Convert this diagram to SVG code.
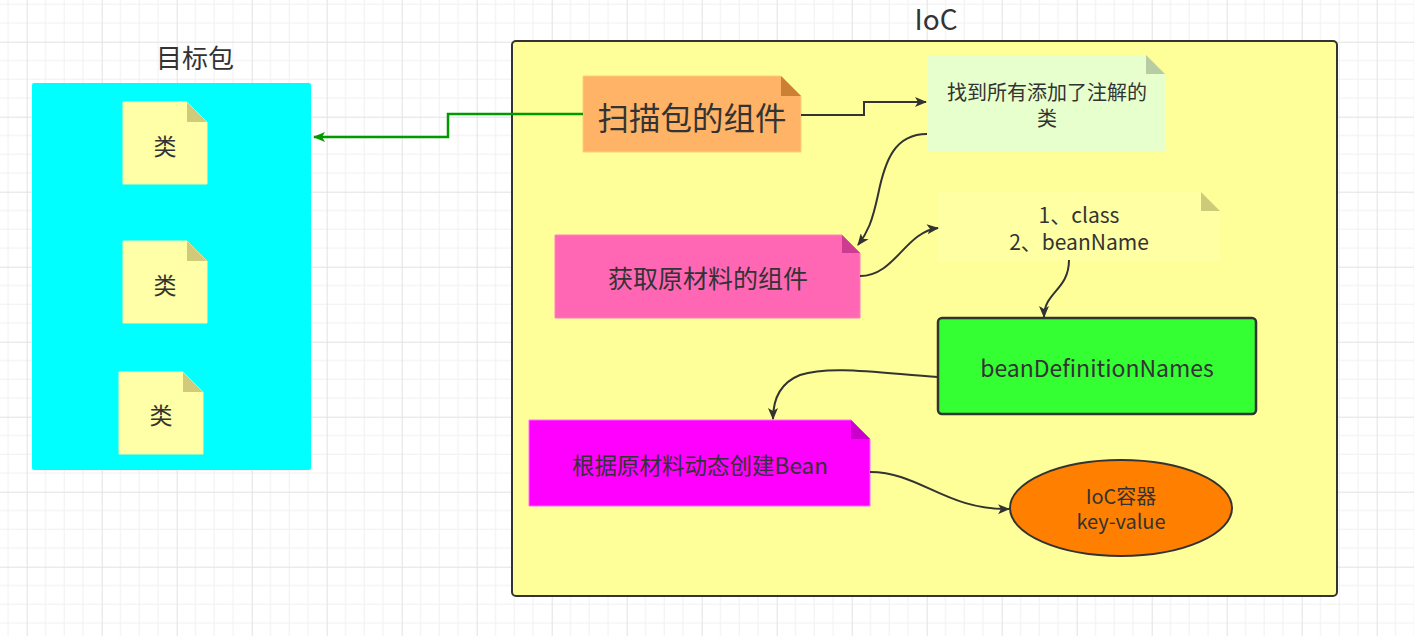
<svg xmlns="http://www.w3.org/2000/svg" width="1414" height="636" viewBox="0 0 1414 636">
<defs>
<pattern id="grid" x="26.7" y="41.7" width="75" height="75" patternUnits="userSpaceOnUse">
<path d="M18.75,0V75M37.5,0V75M56.25,0V75M0,18.75H75M0,37.5H75M0,56.25H75" stroke="#f0f0f0" stroke-width="1" fill="none"/>
<path d="M0.5,0V75M0,0.5H75" stroke="#e2e2e2" stroke-width="1" fill="none"/>
</pattern>
<marker id="ab" viewBox="0 0 12 10" refX="11" refY="5" markerWidth="12" markerHeight="10" markerUnits="userSpaceOnUse" orient="auto">
<path d="M0,0 L12,5 L0,10 L3,5 Z" fill="#333333"/>
</marker>
<marker id="ag" viewBox="0 0 12 10" refX="11" refY="5" markerWidth="12" markerHeight="10" markerUnits="userSpaceOnUse" orient="auto">
<path d="M0,0 L12,5 L0,10 L3,5 Z" fill="#009900"/>
</marker>
<style>
text{font-family:"Noto Sans CJK SC","Noto Sans",sans-serif;fill:#333333;text-anchor:middle;dominant-baseline:central}
.conn{fill:none;stroke:#333333;stroke-width:2}
</style>
</defs>
<rect width="1414" height="636" fill="#ffffff"/>
<rect width="1414" height="636" fill="url(#grid)"/>

<g id="pkg-label"><text x="195" y="56" font-size="26">目标包</text></g>
<g id="pkg"><rect x="32" y="83" width="279" height="387" rx="2" fill="#00ffff"/></g>
<g id="cls1">
<path d="M123,102H187L207,122V184H123Z" fill="#ffffa8" stroke="#fff7a0"/>
<path d="M187,102V122H207Z" fill="#cfcb7a"/>
<text x="165" y="145" font-size="23">类</text>
</g>
<g id="cls2">
<path d="M123,241H187L207,261V323H123Z" fill="#ffffa8" stroke="#fff7a0"/>
<path d="M187,241V261H207Z" fill="#cfcb7a"/>
<text x="165" y="284" font-size="23">类</text>
</g>
<g id="cls3">
<path d="M119,372H183L203,392V454H119Z" fill="#ffffa8" stroke="#fff7a0"/>
<path d="M183,372V392H203Z" fill="#cfcb7a"/>
<text x="161" y="414" font-size="23">类</text>
</g>

<g id="ioc-label"><text x="936" y="18" font-size="28">IoC</text></g>
<g id="ioc"><rect x="512" y="41" width="825" height="555" rx="4" fill="#ffff99" stroke="#333333" stroke-width="2"/></g>

<g id="scan">
<path d="M583,76H781L801,96V152H583Z" fill="#ffb366" stroke="#ffcc80"/>
<path d="M781,76V96H801Z" fill="#cc8033"/>
<text x="692" y="116" font-size="31.5">扫描包的组件</text>
</g>
<g id="find">
<path d="M927,55H1146L1165,74V152H927Z" fill="#e6ffcc"/>
<path d="M1146,55V74H1165Z" fill="#b8cca3"/>
<text x="1047" y="91" font-size="20">找到所有添加了注解的</text>
<text x="1047" y="117" font-size="20">类</text>
</g>
<g id="info">
<path d="M938,192H1201L1220,211V262H938Z" fill="#ffffa3"/>
<path d="M1201,192V211H1220Z" fill="#cccb7a"/>
<text x="1079" y="214" font-size="21">1、class</text>
<text x="1079" y="241" font-size="21">2、beanName</text>
</g>
<g id="get">
<path d="M555,235H842L860,253V318H555Z" fill="#ff66b3" stroke="#ff80c0"/>
<path d="M842,235V253H860Z" fill="#cc3d8f"/>
<text x="708" y="277" font-size="25">获取原材料的组件</text>
</g>
<g id="bdn">
<rect x="938" y="318" width="318" height="96" rx="4" fill="#33ff33" stroke="#333333" stroke-width="2.5"/>
<text x="1097" y="367" font-size="23">beanDefinitionNames</text>
</g>
<g id="create">
<path d="M529,420H851L870,439V506H529Z" fill="#ff00ff" stroke="#ff66ff"/>
<path d="M851,420V439H870Z" fill="#cc00cc"/>
<text x="700" y="464" font-size="22.5">根据原材料动态创建Bean</text>
</g>
<g id="container">
<ellipse cx="1121" cy="508" rx="111" ry="48" fill="#ff8000" stroke="#333333" stroke-width="2"/>
<text x="1121" y="495" font-size="20">IoC容器</text>
<text x="1121" y="520" font-size="20">key-value</text>
</g>

<g id="connectors">
<path d="M583,114H448V137H314" fill="none" stroke="#009900" stroke-width="2.5" marker-end="url(#ag)"/>
<path class="conn" d="M801,115H864V102H926" marker-end="url(#ab)"/>
<path class="conn" d="M927,134C895,134 885,160 878,195C872,222 868,232 858,245" marker-end="url(#ab)"/>
<path class="conn" d="M860,276C895,276 905,232 938,228" marker-end="url(#ab)"/>
<path class="conn" d="M1069,260C1069,290 1044,292 1044,317" marker-end="url(#ab)"/>
<path class="conn" d="M938,377C880,373 830,365 800,375C780,383 773,400 773,419" marker-end="url(#ab)"/>
<path class="conn" d="M870,472C920,472 945,510 1009,509" marker-end="url(#ab)"/>
</g>
</svg>
